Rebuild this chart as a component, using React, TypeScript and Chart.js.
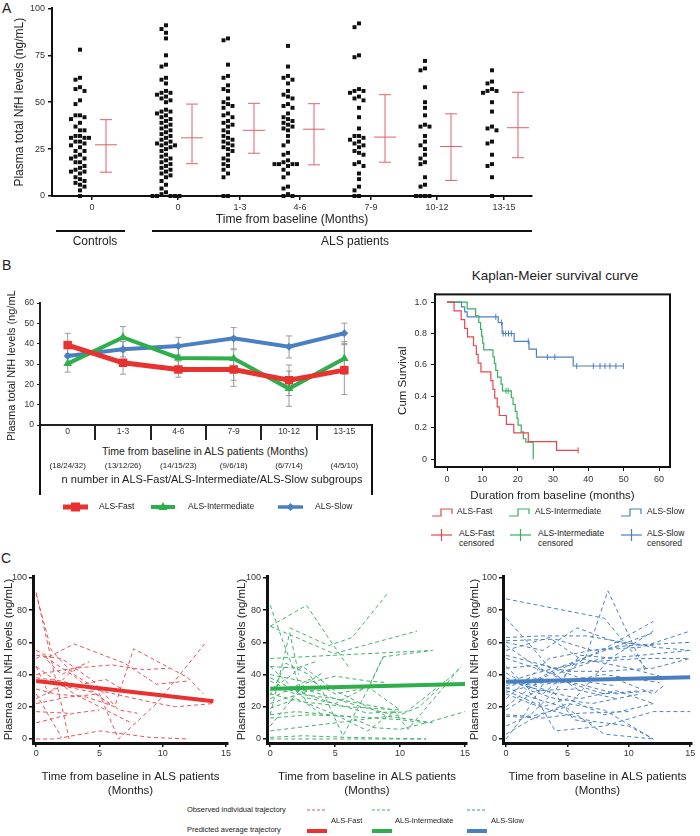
import React, { useEffect, useRef } from "react";
import { Chart, registerables } from "chart.js";
Chart.register(...registerables);

const FONT = "'Liberation Sans', Arial, Helvetica, sans-serif";
Chart.defaults.font.family = FONT;
Chart.defaults.color = "#222";

// ---------------- Panel A data ----------------
const aCategories = ["0", "0", "1-3", "4-6", "7-9", "10-12", "13-15"];
const aControls0 = [78, 63, 62, 58, 57, 56, 51, 49, 43, 43, 42, 41, 39, 37, 35, 35, 32, 32, 31, 31, 31, 29, 29, 28, 27, 26, 24, 24, 22, 21, 20, 20, 18, 18, 16, 15, 14, 13, 13, 12, 10, 9, 8, 7, 6, 5, 3, 0];
const aAls0 = [91, 89, 87, 84, 75, 70, 69, 63, 62, 60, 56, 55, 55, 54, 53, 52, 51, 50, 46, 45, 45, 44, 43, 42, 41, 40, 39, 38, 37, 36, 35, 34, 33, 32, 31, 30, 29, 28, 28, 27, 27, 26, 25, 24, 22, 21, 20, 19, 18, 17, 16, 15, 14, 13, 12, 11, 10, 8, 6, 4, 2, 1, 0, 0, 0, 0, 0];
const aAls1to3 = [84, 83, 70, 64, 63, 59, 57, 56, 52, 50, 49, 48, 47, 44, 43, 42, 40, 39, 38, 37, 35, 34, 32, 31, 30, 29, 28, 27, 26, 25, 24, 22, 20, 19, 17, 16, 14, 12, 10, 0, 0];
const aAls4to6 = [80, 69, 64, 63, 62, 60, 56, 54, 53, 52, 49, 48, 47, 44, 42, 41, 40, 39, 38, 37, 36, 35, 32, 29, 27, 23, 22, 19, 18, 17, 17, 17, 17, 16, 14, 12, 10, 5, 4, 1, 0, 0];
const aAls7to9 = [92, 90, 75, 74, 57, 56, 56, 55, 53, 52, 51, 47, 42, 36, 32, 32, 31, 30, 29, 28, 27, 26, 24, 23, 22, 18, 17, 16, 12, 9, 5, 3, 0, 0];
const aAls10to12 = [72, 68, 67, 58, 50, 47, 43, 38, 37, 37, 32, 29, 27, 25, 22, 20, 18, 17, 10, 6, 5, 0, 0, 0, 0];
const aAls13to15 = [67, 61, 60, 57, 56, 56, 55, 50, 45, 37, 36, 35, 29, 28, 22, 17, 16, 10, 0];
const aGroups = [aControls0, aAls0, aAls1to3, aAls4to6, aAls7to9, aAls10to12, aAls13to15];
const aMean = [27.3, 31, 35, 35.6, 31.4, 26.4, 36.4];
const aSdHigh = [40.7, 49, 49.4, 49.2, 54, 43.8, 55.3];
const aSdLow = [12.7, 17.2, 22.8, 16.6, 18, 8.3, 20.4];

// ---------------- Panel B (left) data ----------------
const bCategories = ["0", "1-3", "4-6", "7-9", "10-12", "13-15"];
const bCounts = ["(18/24/32)", "(13/12/26)", "(14/15/23)", "(9/6/18)", "(6/7/14)", "(4/5/10)"];
const bFastMean = [39.3, 30.6, 27.3, 27.3, 22, 27];
const bFastLow = [33.5, 25, 23.5, 22, 14.5, 15];
const bFastHigh = [45.1, 36, 31.5, 33, 29.5, 39.5];
const bIntMean = [30.2, 43.1, 33, 32.7, 17.9, 32.7];
const bIntLow = [26, 37.5, 28.5, 19, 9.2, 25];
const bIntHigh = [35, 48.4, 38, 37, 26.5, 41];
const bSlowMean = [33.9, 37.2, 38.8, 42.6, 38.5, 45.1];
const bSlowLow = [29.5, 33.5, 34.5, 37.5, 33, 40];
const bSlowHigh = [38.5, 41, 43.1, 47.9, 43.8, 50.1];

// ---------------- Panel B (right) Kaplan-Meier data ----------------
const kmFastTime = [0, 2, 4, 5, 5.8, 7.5, 8.3, 8.8, 9.6, 12.4, 13, 13.5, 14.2, 14.8, 16.8, 18.9, 23, 31, 37.1];
const kmFastSurv = [1, 0.944, 0.889, 0.833, 0.778, 0.722, 0.667, 0.611, 0.556, 0.5, 0.444, 0.389, 0.333, 0.278, 0.222, 0.167, 0.111, 0.056, 0.056];
const kmIntTime = [0, 5.7, 8.1, 9, 9.5, 9.8, 10.1, 10.4, 13, 13.4, 13.8, 14.3, 15.3, 15.7, 18.2, 18.7, 19.3, 19.8, 20.1, 21, 21.6, 22.3, 24.4];
const kmIntSurv = [1, 0.957, 0.913, 0.87, 0.826, 0.783, 0.739, 0.696, 0.652, 0.609, 0.565, 0.522, 0.478, 0.435, 0.391, 0.348, 0.304, 0.261, 0.217, 0.174, 0.13, 0.109, 0];
const kmSlowTime = [0, 4.1, 5, 5.7, 14.5, 15.6, 19, 23.2, 25.3, 35.7, 49.9];
const kmSlowSurv = [1, 0.969, 0.938, 0.906, 0.87, 0.8, 0.75, 0.7, 0.65, 0.593, 0.593];
const kmFastCensTime = [37.1];
const kmFastCensSurv = [0.056];
const kmIntCensTime = [16.7, 17.3];
const kmIntCensSurv = [0.435, 0.435];
const kmSlowCensTime = [13.8, 15.4, 15.9, 16.6, 17.4, 18.2, 23, 28.4, 30.5, 36.7, 41.4, 43.3, 44.7, 46.1, 47.8, 49.9];
const kmSlowCensSurv = [0.906, 0.87, 0.8, 0.8, 0.8, 0.8, 0.75, 0.65, 0.65, 0.593, 0.593, 0.593, 0.593, 0.593, 0.593, 0.593];

// ---------------- Panel C data: [months, ng/mL] ----------------
const cFastTraj: number[][][] = [
  [[0, 91], [2.6, 0]],
  [[0, 90], [1.2, 55], [3, 40], [5, 30]],
  [[0, 55], [1, 51], [3, 59], [7, 47], [9.5, 34], [12, 36]],
  [[0, 52], [2, 50], [4.5, 36], [6.5, 18], [8, 16]],
  [[0, 50], [0.5, 52], [2, 40], [4.2, 48]],
  [[0, 45], [1, 28], [2.5, 40], [3.5, 45]],
  [[0, 40], [3, 44], [6, 46], [8.5, 43], [10.5, 44]],
  [[0, 38], [2, 36], [5, 30], [9, 23], [11, 20], [14, 22]],
  [[0, 36], [3, 33], [5.5, 37], [7, 30]],
  [[0, 31], [1.5, 28], [4, 26], [6.2, 20], [7.7, 56], [12, 38], [13.2, 28]],
  [[0, 25], [2, 33], [4.5, 29], [6, 21]],
  [[0, 22], [2.5, 26], [5, 28], [6.5, 0], [9.5, 22], [13.3, 59]],
  [[0, 17], [2.5, 16]],
  [[0, 10], [3, 16], [5, 18]],
  [[0, 0], [1.5, 0], [5, 5], [9, 1], [12, 0]],
  [[0, 28], [2, 1]],
  [[0, 45], [3, 28], [7.5, 10]],
  [[0.7, 51], [3, 39], [6, 20]],
];
const cFastAvg = [[0, 36], [14, 23.4]];

const cIntTraj: number[][][] = [
  [[0, 83], [1, 60], [2.8, 22], [4, 15]],
  [[0, 70], [2.8, 83], [4.8, 59], [6, 45]],
  [[0, 70], [4.9, 53], [11.3, 67]],
  [[1.5, 69], [4.5, 58], [6.3, 63], [9, 90]],
  [[0, 50], [12.5, 55]],
  [[0, 45], [2, 44], [3.5, 48]],
  [[0, 45], [2.5, 26], [5, 22], [7.6, 33], [8.7, 51], [12.5, 55]],
  [[0, 40], [3, 35], [5, 39], [7.5, 36], [9, 35]],
  [[0, 36], [1.5, 30], [4, 30], [5.6, 2], [7.6, 32], [8.7, 51]],
  [[0, 32], [2, 28], [5, 25], [9.5, 18], [10.6, 6], [14.7, 45]],
  [[0, 28], [2.5, 23], [6, 20], [10, 18]],
  [[0, 27], [1.2, 47], [3, 40], [4, 30]],
  [[0, 25], [3, 37], [5, 28], [7.6, 32], [10, 18]],
  [[0, 19], [2, 25], [5, 15], [7.5, 5], [9.5, 17]],
  [[0, 13], [3, 15], [6, 14], [10, 12], [12, 10], [15, 17]],
  [[0, 8], [2.5, 33], [4, 41]],
  [[0, 5], [5, 10], [10, 15], [11.5, 20], [14.7, 45]],
  [[0, 1], [2.5, 2], [6, 1], [12, 0]],
  [[0, 0], [4, 0], [12, 0]],
  [[0, 15], [1.5, 66], [2.2, 40]],
  [[0, 30], [2.5, 45], [5, 30], [9, 14], [11, 12], [12.5, 10]],
  [[0, 22], [3, 30], [7, 20], [9, 16], [10.5, 17], [13.5, 36]],
  [[0, 15], [2, 17], [6, 14], [8, 7], [10, 6], [12, 10]],
  [[0, 38], [2, 30], [4.5, 23], [7.5, 16], [9.8, 17]],
];
const cIntAvg = [[0, 31.2], [15, 34.1]];

const cSlowTraj: number[][][] = [
  [[0, 87], [8, 75], [10.5, 52], [11.5, 43]],
  [[0, 75], [2, 58], [4, 40], [6, 30]],
  [[0, 63], [3, 64], [6.5, 64], [12, 57], [15, 55]],
  [[0, 60], [3, 55], [5.8, 69], [9, 60], [12, 58]],
  [[0, 58], [2.5, 45], [5, 35], [8, 28], [11, 30]],
  [[0, 55], [3.5, 63], [6, 50], [10, 44], [13, 38]],
  [[0, 50], [4, 40], [7, 48], [11, 50], [15, 50]],
  [[0, 45], [2, 30], [4, 25], [7, 22], [11, 28]],
  [[0, 41], [3, 28], [6.5, 51], [8.3, 92], [11.3, 43]],
  [[0, 38], [1.5, 33], [4.5, 45], [7, 52], [12, 66]],
  [[0, 36], [3, 30], [6, 25], [9, 30], [12, 22]],
  [[0, 33], [2, 38], [5, 36], [8, 40], [12.5, 35]],
  [[0, 31], [1, 35], [2.5, 25], [4, 5], [8, 8], [12, 17], [15, 17]],
  [[0, 30], [3, 20], [5, 25], [8, 15], [11, 20], [12, 22]],
  [[0, 28], [2, 22], [4, 17], [7, 11], [10, 8], [12, 0]],
  [[0, 25], [1.5, 35], [3.5, 50], [7, 55], [10, 58], [15, 60]],
  [[0, 20], [3, 38], [6, 49], [8, 56], [12, 73]],
  [[0, 15], [2, 14], [5, 20], [8.5, 50], [12, 67]],
  [[0, 14], [3, 13], [6, 16], [10, 17]],
  [[0, 8], [2, 15], [4, 30], [6, 52], [9, 50]],
  [[0, 3], [2, 12], [5, 22], [8, 18], [12, 0]],
  [[0, 0], [1.5, 15], [3, 34], [6, 36], [9, 33]],
  [[0, 32], [2, 26], [5, 19], [8, 3], [12, 0]],
  [[0, 61], [4, 62], [7, 55], [11, 57], [15, 67]],
  [[0, 52], [2, 48], [5, 42], [8, 42], [12, 44], [15, 50]],
  [[0, 29], [4, 37], [6, 34], [9, 28], [12, 30]],
  [[0, 18], [2.5, 30], [5.5, 31], [9, 25]],
  [[0, 36], [2, 34], [4, 28], [5.5, 12], [7, 10]],
  [[0, 44], [3, 46], [6, 38], [9, 37], [12, 28], [13, 34]],
  [[0, 35], [2, 40], [4, 44], [8, 50], [11, 52], [15, 55]],
];
const cSlowAvg = [[0, 35.5], [15, 38.3]];

// ---------------- colours / layout ----------------
const RED = "#e8322f";
const GREEN = "#2fae4c";
const BLUE = "#4a7fc1";
const KM_RED = "#e8464c";
const KM_GREEN = "#3aae5e";
const KM_BLUE = "#4c7fbf";
const C_RED_DASH = "#e6545c";
const C_GREEN_DASH = "#45b06c";
const C_BLUE_DASH = "#4d80c4";
const ERR_PINK = "#e0606c";

const A_TICK_X = [92, 178, 240, 300, 371, 437, 504]; // positions on panel A's px-unit x axis
const A_DOT_SHIFT = -12;
const A_BAR_SHIFT = 14;
const A_PX_PER_UNIT = 1.89;

function swarm(values: number[], center: number) {
  const placed: { x: number; y: number }[] = [];
  const sorted = [...values].sort((a, b) => b - a);
  const out: { x: number; y: number }[] = [];
  const cands = [0, -4.5, 4.5, -9, 9, -13.5, 13.5];
  for (const v of sorted) {
    const py = v * A_PX_PER_UNIT;
    let chosen = cands[cands.length - 1];
    for (const c of cands) {
      if (placed.every((p) => Math.abs(p.y - py) >= 4.3 || Math.abs(p.x - c) >= 4.3)) {
        chosen = c;
        break;
      }
    }
    placed.push({ x: chosen, y: py });
    out.push({ x: center + chosen, y: v });
  }
  return out;
}

const noInteract = {
  responsive: false,
  maintainAspectRatio: false,
  animation: false,
  events: [] as any[],
};

// ---------------- Chart builders ----------------
const aErrPlugin = {
  id: "aErr",
  afterDatasetsDraw(chart: any) {
    const { ctx, scales } = chart;
    const x = scales.x, y = scales.y;
    ctx.save();
    ctx.strokeStyle = ERR_PINK;
    ctx.lineWidth = 1;
    aMean.forEach((m, i) => {
      const cx = x.getPixelForValue(A_TICK_X[i] + A_BAR_SHIFT);
      const ym = y.getPixelForValue(m);
      const yh = y.getPixelForValue(aSdHigh[i]);
      const yl = y.getPixelForValue(aSdLow[i]);
      ctx.beginPath();
      ctx.moveTo(cx, yh); ctx.lineTo(cx, yl);
      ctx.moveTo(cx - 6, yh); ctx.lineTo(cx + 6, yh);
      ctx.moveTo(cx - 6, yl); ctx.lineTo(cx + 6, yl);
      ctx.moveTo(cx - 11, ym); ctx.lineTo(cx + 11, ym);
      ctx.stroke();
    });
    ctx.restore();
  },
};

function makeA() {
  const datasets = aGroups.map((vals, i) => ({
    data: swarm(vals, A_TICK_X[i] + A_DOT_SHIFT),
    pointStyle: "rect",
    pointRadius: 2.8,
    backgroundColor: "#111",
    borderColor: "#111",
    borderWidth: 0,
    clip: false,
  }));
  return {
    type: "scatter",
    data: { datasets },
    options: {
      ...noInteract,
      layout: { padding: { top: 7, right: 8, left: 0, bottom: 0 } },
      plugins: { legend: { display: false }, tooltip: { enabled: false } },
      scales: {
        x: {
          type: "linear", min: 52, max: 532,
          afterBuildTicks: (ax: any) => { ax.ticks = A_TICK_X.map((v) => ({ value: v })); },
          afterFit: (ax: any) => { ax.height = 35; },
          ticks: { callback: (_v: any, i: number) => aCategories[i], font: { size: 9 }, color: "#333", padding: 2, maxRotation: 0, autoSkip: false },
          grid: { drawOnChartArea: false, drawTicks: true, tickLength: 4, color: "#111", lineWidth: 1.5 },
          border: { display: true, color: "#111", width: 2 },
          title: { display: true, text: "Time from baseline (Months)", font: { size: 12 }, color: "#222", padding: { top: 0, bottom: 4 } },
        },
        y: {
          min: 0, max: 100,
          afterFit: (ax: any) => { ax.width = 52; },
          ticks: { stepSize: 25, font: { size: 9 }, color: "#333", padding: 3 },
          grid: { drawOnChartArea: false, drawTicks: true, tickLength: 4, color: "#111", lineWidth: 1.5 },
          border: { display: true, color: "#111", width: 2 },
          title: { display: true, text: "Plasma total NfH levels (ng/mL)", font: { size: 12 }, color: "#222", padding: { top: 12, bottom: 0 } },
        },
      },
    },
    plugins: [aErrPlugin],
  };
}

const bSeries = [
  { label: "ALS-Fast", mean: bFastMean, lo: bFastLow, hi: bFastHigh, color: RED, width: 5, style: "rect", radius: 6 },
  { label: "ALS-Intermediate", mean: bIntMean, lo: bIntLow, hi: bIntHigh, color: GREEN, width: 4, style: "triangle", radius: 5 },
  { label: "ALS-Slow", mean: bSlowMean, lo: bSlowLow, hi: bSlowHigh, color: BLUE, width: 4, style: "rectRot", radius: 4 },
];

const bErrPlugin = {
  id: "bErr",
  beforeDatasetsDraw(chart: any) {
    const { ctx, scales } = chart;
    const x = scales.x, y = scales.y;
    ctx.save();
    ctx.strokeStyle = "#9c9c9c";
    ctx.lineWidth = 1;
    bSeries.forEach((s) => {
      s.lo.forEach((lo, i) => {
        const cx = x.getPixelForValue(i);
        const yl = y.getPixelForValue(lo);
        const yh = y.getPixelForValue(s.hi[i]);
        ctx.beginPath();
        ctx.moveTo(cx, yl); ctx.lineTo(cx, yh);
        ctx.moveTo(cx - 3, yl); ctx.lineTo(cx + 3, yl);
        ctx.moveTo(cx - 3, yh); ctx.lineTo(cx + 3, yh);
        ctx.stroke();
      });
    });
    ctx.restore();
  },
};

function makeB() {
  return {
    type: "line",
    data: {
      labels: bCategories,
      datasets: bSeries.map((s) => ({
        label: s.label,
        data: s.mean,
        borderColor: s.color,
        backgroundColor: s.color,
        borderWidth: s.width,
        pointStyle: s.style,
        pointRadius: s.radius,
        pointBorderWidth: 0,
        tension: 0,
        clip: false,
      })),
    },
    options: {
      ...noInteract,
      layout: { padding: { top: 13, right: 8, left: 0, bottom: 0 } },
      plugins: { legend: { display: false }, tooltip: { enabled: false } },
      scales: {
        x: {
          type: "category", offset: true,
          afterFit: (ax: any) => { ax.height = 15; },
          ticks: { font: { size: 8.5 }, color: "#333", padding: -13, maxRotation: 0, autoSkip: false },
          grid: { offset: true, drawOnChartArea: false, drawTicks: true, tickLength: 15, color: "#222", lineWidth: 2 },
          border: { display: true, color: "#222", width: 2 },
        },
        y: {
          min: 0, max: 60,
          afterFit: (ax: any) => { ax.width = 40; },
          ticks: { stepSize: 10, font: { size: 8.5 }, color: "#333", padding: 3 },
          grid: { drawOnChartArea: false, drawTicks: true, tickLength: 3, color: "#222", lineWidth: 1 },
          border: { display: true, color: "#222", width: 2 },
          title: { display: true, text: "Plasma total NfH levels (ng/mL)", font: { size: 11 }, color: "#222", padding: { top: 5, bottom: 0 } },
        },
      },
    },
    plugins: [bErrPlugin],
  };
}

const boxPlugin = {
  id: "box",
  afterDraw(chart: any) {
    const { ctx, chartArea } = chart;
    ctx.save();
    ctx.strokeStyle = "#111";
    ctx.lineWidth = 2;
    ctx.strokeRect(chartArea.left, chartArea.top, chartArea.right - chartArea.left, chartArea.bottom - chartArea.top);
    ctx.restore();
  },
};

function pts(t: number[], s: number[]) {
  return t.map((v, i) => ({ x: v, y: s[i] }));
}

function makeKM() {
  const step = (t: number[], s: number[], c: string) => ({
    type: "line", data: pts(t, s), borderColor: c, borderWidth: 1.2, stepped: "before", pointRadius: 0, fill: false,
  });
  const cens = (t: number[], s: number[], c: string) => ({
    type: "scatter", data: pts(t, s), borderColor: c, backgroundColor: c, pointStyle: "line", rotation: 90, pointRadius: 3, borderWidth: 1, showLine: false,
  });
  return {
    type: "line",
    data: {
      datasets: [
        step(kmFastTime, kmFastSurv, KM_RED),
        step(kmIntTime, kmIntSurv, KM_GREEN),
        step(kmSlowTime, kmSlowSurv, KM_BLUE),
        cens(kmFastCensTime, kmFastCensSurv, KM_RED),
        cens(kmIntCensTime, kmIntCensSurv, KM_GREEN),
        cens(kmSlowCensTime, kmSlowCensSurv, KM_BLUE),
      ],
    },
    options: {
      ...noInteract,
      layout: { padding: { top: 8, right: 10, left: 0, bottom: 0 } },
      plugins: { legend: { display: false }, tooltip: { enabled: false } },
      scales: {
        x: {
          type: "linear", min: -3.4, max: 63.1,
          afterBuildTicks: (ax: any) => { ax.ticks = [0, 10, 20, 30, 40, 50, 60].map((v) => ({ value: v })); },
          afterFit: (ax: any) => { ax.height = 38; },
          ticks: { font: { size: 9 }, color: "#333", padding: 3, maxRotation: 0 },
          grid: { drawOnChartArea: false, drawTicks: true, tickLength: 4, color: "#111", lineWidth: 1 },
          border: { display: true, color: "#111", width: 2 },
          title: { display: true, text: "Duration from baseline (months)", font: { size: 11.5 }, color: "#222", padding: { top: 0, bottom: 2 } },
        },
        y: {
          min: -0.05, max: 1.049,
          afterBuildTicks: (ax: any) => { ax.ticks = [0, 0.2, 0.4, 0.6, 0.8, 1].map((v) => ({ value: v })); },
          afterFit: (ax: any) => { ax.width = 45; },
          ticks: { font: { size: 9 }, color: "#333", padding: 4, callback: (v: any) => (v === 0 ? "0" : Number(v).toFixed(1)) },
          grid: { drawOnChartArea: false, drawTicks: true, tickLength: 4, color: "#111", lineWidth: 1 },
          border: { display: true, color: "#111", width: 2 },
          title: { display: true, text: "Cum Survival", font: { size: 11.5 }, color: "#222", padding: { top: 6, bottom: 0 } },
        },
      },
    },
    plugins: [boxPlugin],
  };
}

function makeTraj(trajs: number[][][], avg: number[][], dash: string, solid: string, yWidth: number) {
  const toPts = (tr: number[][]) => tr.map(([t, v]) => ({ x: t, y: v }));
  return {
    type: "line",
    data: {
      datasets: [
        { data: toPts(avg), borderColor: solid, borderWidth: 4, pointRadius: 0, tension: 0 },
        ...trajs.map((tr) => ({ data: toPts(tr), borderColor: dash, borderWidth: 1, borderDash: [4, 3], pointRadius: 0, tension: 0 })),
      ],
    },
    options: {
      ...noInteract,
      layout: { padding: { top: 10, right: 8, left: 0, bottom: 0 } },
      plugins: { legend: { display: false }, tooltip: { enabled: false } },
      scales: {
        x: {
          type: "linear", min: -0.25, max: 15.15,
          afterBuildTicks: (ax: any) => { ax.ticks = [0, 5, 10, 15].map((v) => ({ value: v })); },
          afterFit: (ax: any) => { ax.height = 59; },
          ticks: { font: { size: 9 }, color: "#333", padding: 1, maxRotation: 0 },
          grid: { drawOnChartArea: false, drawTicks: true, tickLength: 4, color: "#111", lineWidth: 1.5 },
          border: { display: true, color: "#111", width: 3 },
          title: { display: true, text: ["Time from baseline in ALS patients", "(Months)"], font: { size: 11.5 }, color: "#222", padding: { top: 0, bottom: 4 } },
        },
        y: {
          min: -2.5, max: 101.2,
          afterBuildTicks: (ax: any) => { ax.ticks = [0, 20, 40, 60, 80, 100].map((v) => ({ value: v })); },
          afterFit: (ax: any) => { ax.width = yWidth; },
          ticks: { font: { size: 9 }, color: "#333", padding: 2 },
          grid: { drawOnChartArea: false, drawTicks: true, tickLength: 4, color: "#111", lineWidth: 1.5 },
          border: { display: true, color: "#111", width: 3 },
          title: { display: true, text: "Plasma total NfH levels (ng/mL)", font: { size: 11.5 }, color: "#222", padding: { top: 2, bottom: 0 } },
        },
      },
    },
  };
}

// ---------------- React pieces ----------------
function ChartBox({ left, top, width, height, make }: { left: number; top: number; width: number; height: number; make: () => any }) {
  const ref = useRef<HTMLCanvasElement | null>(null);
  useEffect(() => {
    if (!ref.current) return;
    const chart = new Chart(ref.current, make());
    return () => chart.destroy();
  }, []);
  return <canvas ref={ref} width={width} height={height} style={{ position: "absolute", left, top, width, height }} />;
}

function Txt({ x, y, size, children, align = "left", color = "#222", style = {} }: any) {
  const tx = align === "center" ? "-50%" : align === "right" ? "-100%" : "0";
  return (
    <div style={{ position: "absolute", left: x, top: y, fontSize: size, lineHeight: 1, whiteSpace: "nowrap", color, transform: `translate(${tx}, -50%)`, ...style }}>
      {children}
    </div>
  );
}

function HLine({ x, y, w, h = 2, color = "#111" }: any) {
  return <div style={{ position: "absolute", left: x, top: y, width: w, height: h, background: color }} />;
}
function VLine({ x, y, h, w = 2, color = "#111" }: any) {
  return <div style={{ position: "absolute", left: x, top: y, width: w, height: h, background: color }} />;
}

function LineMarkerIcon({ x, y, w, color, lw, marker }: any) {
  const h = 14;
  const cx = w / 2, cy = h / 2;
  let m: any = null;
  if (marker === "rect") m = <rect x={cx - 4.5} y={cy - 4.5} width={9} height={9} fill={color} />;
  if (marker === "triangle") m = <polygon points={`${cx},${cy - 5} ${cx + 4.5},${cy + 3} ${cx - 4.5},${cy + 3}`} fill={color} />;
  if (marker === "diamond") m = <polygon points={`${cx},${cy - 4} ${cx + 4},${cy} ${cx},${cy + 4} ${cx - 4},${cy}`} fill={color} />;
  return (
    <svg style={{ position: "absolute", left: x, top: y - h / 2 }} width={w} height={h}>
      <line x1={0} y1={cy} x2={w} y2={cy} stroke={color} strokeWidth={lw} />
      {m}
    </svg>
  );
}

function StepIcon({ x, y, color }: any) {
  return (
    <svg style={{ position: "absolute", left: x, top: y - 6 }} width={22} height={12}>
      <path d="M0,10 H9 V3 H20 V8" fill="none" stroke={color} strokeWidth={1.2} />
    </svg>
  );
}
function PlusIcon({ x, y, color }: any) {
  return (
    <svg style={{ position: "absolute", left: x, top: y - 6 }} width={22} height={12}>
      <line x1={0} y1={6} x2={21} y2={6} stroke={color} strokeWidth={1.2} />
      <line x1={10.5} y1={0} x2={10.5} y2={12} stroke={color} strokeWidth={1.2} />
    </svg>
  );
}
function TrajIcon({ x, y, color, dashed }: any) {
  return (
    <svg style={{ position: "absolute", left: x, top: y - 4 }} width={20} height={8}>
      <line x1={0} y1={4} x2={20} y2={4} stroke={color} strokeWidth={dashed ? 1 : 4} strokeDasharray={dashed ? "3,2" : undefined} />
    </svg>
  );
}

// B-left category centres (chart area 40..372, 6 bands)
const B_LEFT = 40, B_RIGHT = 372;
const bBand = (B_RIGHT - B_LEFT) / bCategories.length;

export default function App() {
  return (
    <div style={{ position: "relative", width: 700, height: 836, background: "#fff", overflow: "hidden", fontFamily: FONT, color: "#222" }}>
      <style>{"body{margin:0;background:#fff}"}</style>

      {/* Panel A */}
      <Txt x={2} y={8} size={14}>A</Txt>
      <ChartBox left={0} top={0} width={540} height={231} make={makeA} />
      <HLine x={56} y={230} w={69} />
      <Txt x={95} y={241} size={12} align="center">Controls</Txt>
      <HLine x={152} y={230} w={380} />
      <Txt x={355} y={241} size={12} align="center">ALS patients</Txt>

      {/* Panel B */}
      <Txt x={2} y={265} size={14}>B</Txt>
      <ChartBox left={0} top={290} width={380} height={150} make={makeB} />
      <VLine x={39} y={424} h={71} />
      <VLine x={371} y={424} h={71} />
      <Txt x={205} y={451} size={10.5} align="center">Time from baseline in ALS patients (Months)</Txt>
      {bCounts.map((c, i) => (
        <Txt key={i} x={B_LEFT + bBand * (i + 0.5)} y={466} size={8} align="center">{c}</Txt>
      ))}
      <Txt x={212} y={479} size={11} align="center">n number in ALS-Fast/ALS-Intermediate/ALS-Slow subgroups</Txt>
      <LineMarkerIcon x={63} y={507} w={25} color={RED} lw={5} marker="rect" />
      <Txt x={99} y={506} size={8.5}>ALS-Fast</Txt>
      <LineMarkerIcon x={151} y={507} w={24} color={GREEN} lw={4} marker="triangle" />
      <Txt x={188} y={506} size={8.5}>ALS-Intermediate</Txt>
      <LineMarkerIcon x={278} y={507} w={25} color={BLUE} lw={3.5} marker="diamond" />
      <Txt x={315} y={506} size={8.5}>ALS-Slow</Txt>

      <Txt x={555} y={276} size={13.5} align="center">Kaplan-Meier survival curve</Txt>
      <ChartBox left={390} top={285} width={290} height={220} make={makeKM} />
      <StepIcon x={432} y={512} color={KM_RED} />
      <Txt x={457} y={511} size={8.5}>ALS-Fast</Txt>
      <StepIcon x={509} y={512} color={KM_GREEN} />
      <Txt x={535} y={511} size={8.5}>ALS-Intermediate</Txt>
      <StepIcon x={621} y={512} color={KM_BLUE} />
      <Txt x={647} y={511} size={8.5}>ALS-Slow</Txt>
      <PlusIcon x={431} y={535} color={KM_RED} />
      <div style={{ position: "absolute", left: 459, top: 528, fontSize: 8.5, lineHeight: "10px" }}>ALS-Fast<br />censored</div>
      <PlusIcon x={510} y={535} color={KM_GREEN} />
      <div style={{ position: "absolute", left: 538, top: 528, fontSize: 8.5, lineHeight: "10px" }}>ALS-Intermediate<br />censored</div>
      <PlusIcon x={621} y={535} color={KM_BLUE} />
      <div style={{ position: "absolute", left: 647, top: 528, fontSize: 8.5, lineHeight: "10px" }}>ALS-Slow<br />censored</div>

      {/* Panel C */}
      <Txt x={1} y={558} size={14}>C</Txt>
      <ChartBox left={0} top={566} width={236} height={236} make={() => makeTraj(cFastTraj, cFastAvg, C_RED_DASH, RED, 33)} />
      <ChartBox left={233} top={566} width={242} height={236} make={() => makeTraj(cIntTraj, cIntAvg, C_GREEN_DASH, GREEN, 34)} />
      <ChartBox left={466} top={566} width={234} height={236} make={() => makeTraj(cSlowTraj, cSlowAvg, C_BLUE_DASH, BLUE, 37)} />

      <Txt x={187} y={810} size={7.5}>Observed individual trajectory</Txt>
      <Txt x={187} y={830} size={7.5}>Predicted average trajectory</Txt>
      <TrajIcon x={307} y={810} color={C_RED_DASH} dashed />
      <TrajIcon x={372} y={810} color={C_GREEN_DASH} dashed />
      <TrajIcon x={467} y={810} color={C_BLUE_DASH} dashed />
      <TrajIcon x={307} y={831} color={RED} />
      <TrajIcon x={372} y={831} color={GREEN} />
      <TrajIcon x={467} y={831} color={BLUE} />
      <Txt x={331} y={821} size={7.5}>ALS-Fast</Txt>
      <Txt x={395} y={821} size={7.5}>ALS-Intermediate</Txt>
      <Txt x={491} y={821} size={7.5}>ALS-Slow</Txt>
    </div>
  );
}
